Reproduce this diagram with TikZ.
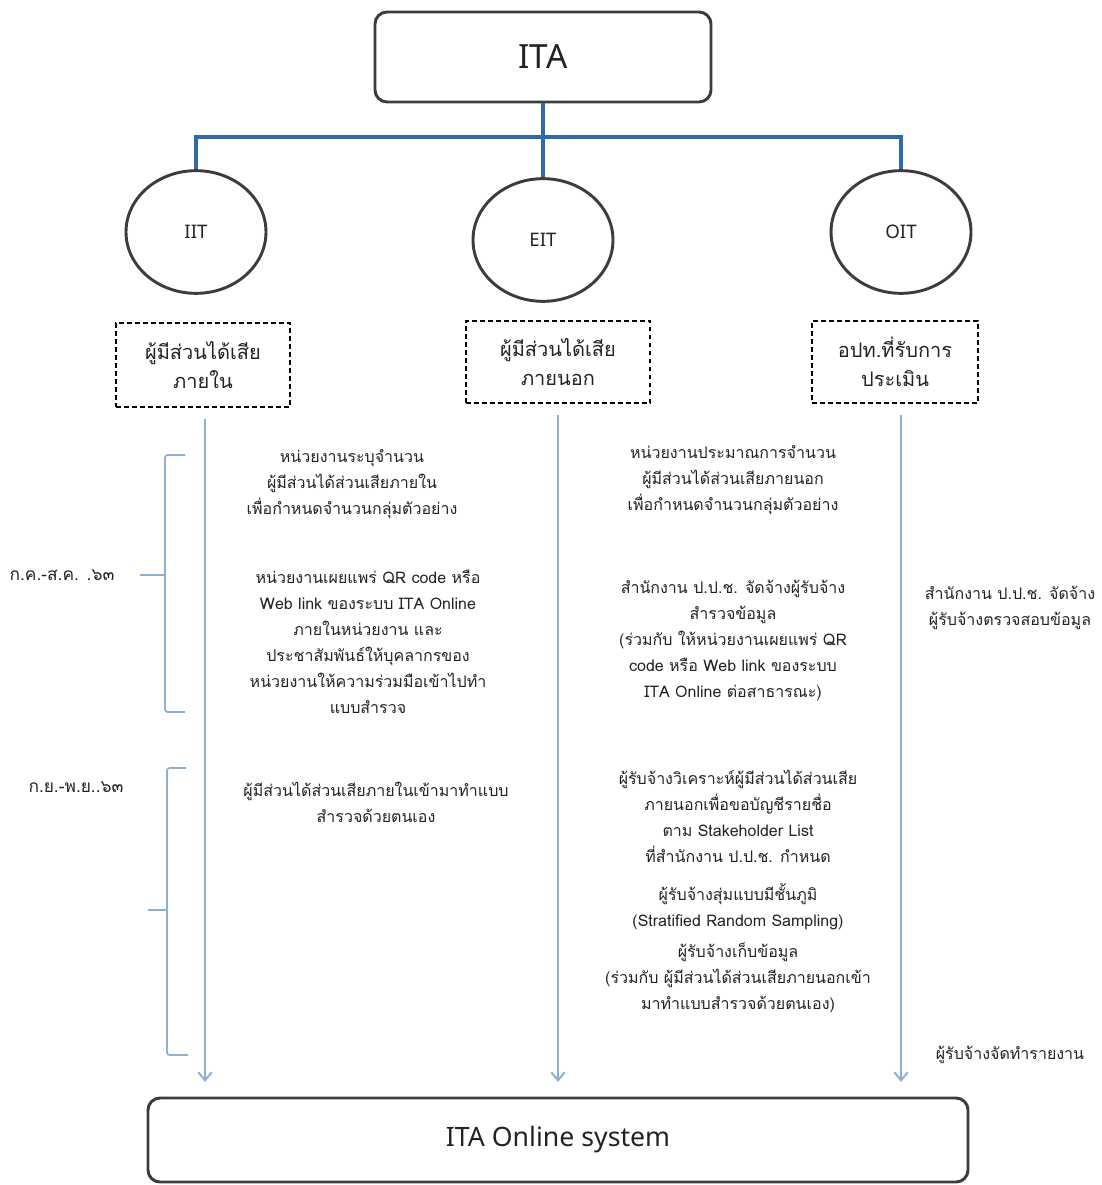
\documentclass[tikz,border=0pt]{standalone}
\usepackage{fontspec}
\setmainfont{Noto Sans}
\newfontfamily\thaifont[Script=Thai]{Loma}
\usetikzlibrary{arrows.meta,shapes.geometric}
\definecolor{bordergrey}{RGB}{60,60,60}
\definecolor{darkblue}{RGB}{46,107,168}
\definecolor{lightblue}{RGB}{140,176,212}
\definecolor{txt}{RGB}{35,35,35}
\begin{document}
\begin{tikzpicture}[x=0.75pt,y=-0.75pt,
  mainbox/.style={draw=bordergrey, line width=2.2pt, rounded corners=9pt, text=txt, inner sep=0},
  circ/.style={ellipse, draw=bordergrey, line width=2.2pt, minimum width=105pt, minimum height=92pt, inner sep=0, text=txt, font=\fontsize{14}{16}\selectfont},
  dbox/.style={draw=black, line width=1.3pt, dash pattern=on 3.5pt off 2.5pt, align=center, inner sep=0, text=txt, font=\thaifont\fontsize{15}{22}\selectfont},
  thai/.style={align=center, inner sep=0, text=txt, font=\thaifont\fontsize{12}{19.5}\selectfont},
  conn/.style={draw=darkblue, line width=3.2pt},
  flow/.style={draw=lightblue, line width=1.5pt, -{Straight Barb[length=6pt,width=10pt]}, shorten <=8pt, shorten >=11pt},
  bracket/.style={draw=lightblue, line width=1.3pt, rounded corners=2pt}
]
\useasboundingbox (0,0) rectangle (1102,1185);

% top
\node[mainbox, minimum width=252pt, minimum height=67.5pt, font=\fontsize{25}{30}\selectfont] (ITA) at (543,57) {ITA};
\node[circ] (IIT) at (196,232) {IIT};
\node[circ] (EIT) at (543,240) {EIT};
\node[circ] (OIT) at (901,232) {OIT};
\coordinate (bar) at (543,137);
\draw[conn] (ITA.south) -- (EIT.north);
\draw[conn] (IIT.north) -- (IIT.north |- bar) -- (OIT.north |- bar) -- (OIT.north);

% dashed boxes
\node[dbox, minimum width=130.5pt, minimum height=63pt] (D1) at (203,365) {ผู้มีส่วนได้เสีย\\ภายใน};
\node[dbox, minimum width=138pt, minimum height=62pt] (D2) at (558,362) {ผู้มีส่วนได้เสีย\\ภายนอก};
\node[dbox, minimum width=124pt, minimum height=62pt] (D3) at (895,362) {อปท.ที่รับการ\\ประเมิน};

% bottom box
\node[mainbox, minimum width=615pt, minimum height=63pt, font=\fontsize{20}{24}\selectfont] (SYS) at (558,1140) {ITA Online system};

% flows
\draw[flow] ([xshift=1.5pt]D1.south) -- ([xshift=1.5pt]D1.south |- SYS.north);
\draw[flow] (D2.south) -- (D2.south |- SYS.north);
\draw[flow] (OIT |- D3.south) -- (OIT |- SYS.north);

% brackets
\draw[bracket] (185,455) -- (165,455) -- (165,712) -- (185,712);
\draw[bracket] (165,575) -- (140,575);
\draw[bracket] (186,768) -- (167,768) -- (167,1055) -- (188,1055);
\draw[bracket] (167,910) -- (148,910);
\node[thai, font=\thaifont\fontsize{13}{16}\selectfont] (L1) at (62,575) {ก.ค.-ส.ค. .๖๓};
\node[thai, font=\thaifont\fontsize{13}{16}\selectfont] (L2) at (76,787) {ก.ย.-พ.ย..๖๓};

% left column texts
\node[thai] (T1) at (352,484) {หน่วยงานระบุจำนวน\\ผู้มีส่วนได้ส่วนเสียภายใน\\เพื่อกำหนดจำนวนกลุ่มตัวอย่าง};
\node[thai] (T2) at (368,642) {หน่วยงานเผยแพร่ QR code หรือ\\Web link ของระบบ ITA Online\\ภายในหน่วยงาน และ\\ประชาสัมพันธ์ให้บุคลากรของ\\หน่วยงานให้ความร่วมมือเข้าไปทำ\\แบบสำรวจ};
\node[thai] (T3) at (376,802) {ผู้มีส่วนได้ส่วนเสียภายในเข้ามาทำแบบ\\สำรวจด้วยตนเอง};

% middle column texts
\node[thai] (T4) at (733,480) {หน่วยงานประมาณการจำนวน\\ผู้มีส่วนได้ส่วนเสียภายนอก\\เพื่อกำหนดจำนวนกลุ่มตัวอย่าง};
\node[thai] (T5) at (733,640) {สำนักงาน ป.ป.ช. จัดจ้างผู้รับจ้าง\\สำรวจข้อมูล\\(ร่วมกับ ให้หน่วยงานเผยแพร่ QR\\code หรือ Web link ของระบบ\\ITA Online ต่อสาธารณะ)};
\node[thai] (T6) at (738,816) {ผู้รับจ้างวิเคราะห์ผู้มีส่วนได้ส่วนเสีย\\ภายนอกเพื่อขอบัญชีรายชื่อ\\ตาม Stakeholder List\\ที่สำนักงาน ป.ป.ช. กำหนด};
\node[thai] (T7) at (738,907) {ผู้รับจ้างสุ่มแบบมีชั้นภูมิ\\(Stratified Random Sampling)};
\node[thai] (T8) at (738,978) {ผู้รับจ้างเก็บข้อมูล\\(ร่วมกับ ผู้มีส่วนได้ส่วนเสียภายนอกเข้า\\มาทำแบบสำรวจด้วยตนเอง)};

% right texts
\node[thai] (T9) at (1010,608) {สำนักงาน ป.ป.ช. จัดจ้าง\\ผู้รับจ้างตรวจสอบข้อมูล};
\node[thai] (T10) at (1010,1055) {ผู้รับจ้างจัดทำรายงาน};
\end{tikzpicture}
\end{document}
